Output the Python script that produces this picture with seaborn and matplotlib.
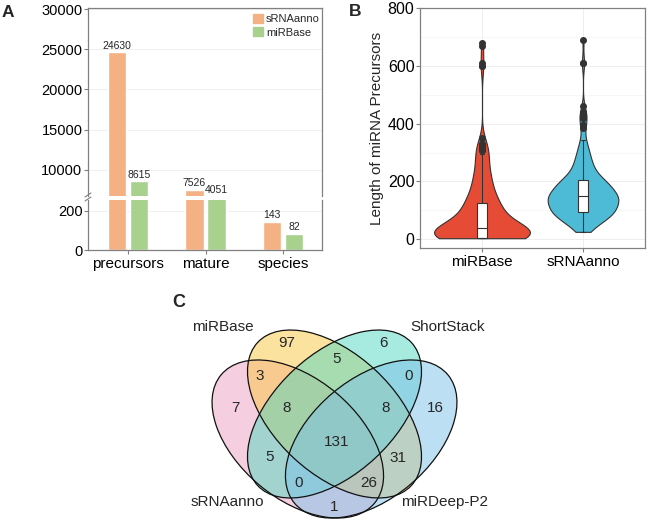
import numpy as np
import pandas as pd
import matplotlib
matplotlib.use("Agg")
import matplotlib.pyplot as plt
import seaborn as sns
from matplotlib.patches import Ellipse, Patch
from matplotlib.lines import Line2D

# ---------------- data ----------------
# Panel A: counts per annotation source
categories = ["precursors", "mature", "species"]
srnaanno_counts = [24630, 7526, 143]
mirbase_counts = [8615, 4051, 82]

# Panel B: precursor lengths as (length, how many)
mirbase_len = [3, 5, 15, 25, 35, 40, 55, 70, 90, 110, 125, 150, 175, 200, 225,
               250, 275, 295, 310, 320, 330, 350, 600, 610, 670, 680]
mirbase_num = [28, 29, 14, 14, 14, 14, 12, 11, 11, 11, 11, 9, 8, 7, 6,
               5, 4, 3, 3, 3, 2, 1, 2, 1, 1, 1]
srnaanno_len = [25, 40, 55, 70, 85, 95, 110, 125, 140, 150, 165, 180, 195, 205,
                225, 250, 275, 300, 325, 345, 385, 395, 420, 430, 440, 460, 610, 690]
srnaanno_num = [3, 5, 7, 10, 14, 12, 14, 15, 16, 14, 13, 12, 12, 8,
                9, 8, 6, 5, 3, 2, 1, 2, 2, 2, 1, 1, 2, 1]

# Panel C: four-set Venn region counts
# A = sRNAanno, B = miRBase, S = ShortStack, D = miRDeep-P2
venn_sets = ["sRNAanno", "miRBase", "ShortStack", "miRDeep-P2"]
venn_regions = ["B", "S", "BS", "AB", "SD", "A", "ABS", "BSD", "D",
                "ABSD", "AS", "BD", "ASD", "ABD", "AD"]
venn_counts = [97, 6, 5, 3, 0, 7, 8, 8, 16, 131, 5, 31, 0, 26, 1]

# ---------------- style ----------------
sns.set_theme(style="white")
plt.rcParams["font.family"] = ["Liberation Sans", "DejaVu Sans"]

orange, green = "#F4B183", "#A9D18E"
red, blue = "#E64B35", "#4DBBD5"
frame = "#808080"

W, H = 648, 526
fig = plt.figure(figsize=(W / 100, H / 100), dpi=100)


def box(left, top, right, bottom):
    # axes rectangle from pixel edges (origin top-left)
    return [left / W, 1 - bottom / H, (right - left) / W, (bottom - top) / H]


# ---------------- Panel A: bars with broken axis ----------------
bars = pd.DataFrame({
    "category": categories * 2,
    "count": srnaanno_counts + mirbase_counts,
    "source": ["sRNAanno"] * 3 + ["miRBase"] * 3,
})
low_max, top_min = 254, 6750

ax_top = fig.add_axes(box(88, 8.3, 322, 196))
ax_low = fig.add_axes(box(88, 200, 322, 250))
for ax in (ax_top, ax_low):
    sns.barplot(data=bars, x="category", y="count", hue="source",
                hue_order=["sRNAanno", "miRBase"], palette=[orange, green],
                width=0.568, gap=0.18, saturation=1, errorbar=None,
                legend=False, ax=ax, zorder=2)
    ax.set_xlim(-0.516, 2.503)
    ax.set_xlabel("")
    ax.set_ylabel("")
    ax.grid(axis="y", color="#F0F0F0", lw=0.7, zorder=0)
    for s in ax.spines.values():
        s.set_color(frame)
        s.set_linewidth(0.9)
    ax.tick_params(axis="y", labelsize=10.5, colors=frame, labelcolor="black",
                   length=3, width=0.8, left=True, pad=1)

ax_top.set_ylim(top_min, 30100)
ax_top.set_yticks([10000, 15000, 20000, 25000, 30000])
ax_top.spines["bottom"].set_visible(False)
ax_top.tick_params(axis="x", bottom=False, labelbottom=False)

ax_low.set_ylim(0, low_max)
ax_low.set_yticks([0, 200])
ax_low.spines["top"].set_visible(False)
ax_low.tick_params(axis="x", labelsize=11, colors=frame, labelcolor="black",
                   length=3, width=0.8, bottom=True, pad=2)

# value labels above the bars
for cont_top, vals in zip(ax_top.containers, [srnaanno_counts, mirbase_counts]):
    for patch, v in zip(cont_top.patches, vals):
        xc = patch.get_x() + patch.get_width() / 2
        if v > top_min:
            ax_top.annotate(str(v), (xc, v), xytext=(0, 1), textcoords="offset points",
                            ha="center", va="bottom", fontsize=7.5)
        elif v <= low_max:
            ax_low.annotate(str(v), (xc, v), xytext=(0, 1), textcoords="offset points",
                            ha="center", va="bottom", fontsize=7.5)
        else:
            ax_top.annotate(str(v), (xc, top_min), xytext=(0, 1), textcoords="offset points",
                            ha="center", va="bottom", fontsize=7.5, annotation_clip=False)

# break marks on the left border
for dy in (0, 4):
    fig.add_artist(Line2D([85 / W, 91 / W], [1 - (197 + dy) / H, 1 - (193 + dy) / H],
                          color=frame, lw=0.8))

ax_top.legend(handles=[Patch(color=orange), Patch(color=green)],
              labels=["sRNAanno", "miRBase"], loc="upper right",
              bbox_to_anchor=(320 / W, 1 - 14 / H), bbox_transform=fig.transFigure,
              frameon=False, fontsize=8, handlelength=0.9, handleheight=0.9,
              handletextpad=0.3, labelspacing=0.25, borderaxespad=0, borderpad=0)

# ---------------- Panel B: violins + boxes ----------------
lengths = pd.DataFrame({
    "db": ["miRBase"] * sum(mirbase_num) + ["sRNAanno"] * sum(srnaanno_num),
    "length": np.concatenate([np.repeat(mirbase_len, mirbase_num),
                              np.repeat(srnaanno_len, srnaanno_num)]),
})
order = ["miRBase", "sRNAanno"]

ax_b = fig.add_axes(box(420, 8.3, 645, 248.3))
for db, col, wid, bw in [("miRBase", red, 0.95, 0.85), ("sRNAanno", blue, 0.70, 0.7)]:
    sns.violinplot(data=lengths[lengths["db"] == db], x="db", y="length", order=order,
                   color=col, cut=0, inner=None, width=wid, bw_adjust=bw,
                   density_norm="width", saturation=1, linewidth=0.8,
                   linecolor="#333333", ax=ax_b)
sns.boxplot(data=lengths, x="db", y="length", order=order,
            width=0.09, color="white", saturation=1, linecolor="#333333",
            linewidth=0.8, fliersize=4,
            flierprops={"marker": "o", "markerfacecolor": "#333333",
                        "markeredgecolor": "#333333"}, ax=ax_b)
ax_b.set_xlim(-0.614, 1.614)
ax_b.set_ylim(-32, 800)
ax_b.set_yticks([0, 200, 400, 600, 800])
ax_b.set_yticks([100, 300, 500, 700], minor=True)
ax_b.grid(which="major", color="#EBEBEB", lw=0.6)
ax_b.grid(which="minor", axis="y", color="#F2F2F2", lw=0.4)
ax_b.set_axisbelow(True)
ax_b.set_xlabel("")
ax_b.set_ylabel("Length of miRNA Precursors", fontsize=11, labelpad=3)
for s in ax_b.spines.values():
    s.set_color(frame)
    s.set_linewidth(0.9)
ax_b.tick_params(axis="both", colors=frame, labelcolor="black", length=3,
                 width=0.8, left=True, bottom=True)
ax_b.tick_params(axis="y", labelsize=11.5, pad=1)
ax_b.tick_params(axis="x", labelsize=11, pad=2)
ax_b.tick_params(which="minor", left=False)

# ---------------- Panel C: Venn ----------------
# axes in pixel units, y pointing down
ax_c = fig.add_axes(box(165.5, 298.7, 503.5, 524))
ax_c.set_xlim(165.5, 503.5)
ax_c.set_ylim(524, 298.7)
ax_c.axis("off")

# center, semi-major, semi-minor, angle, fill
ellipse_layout = {
    "sRNAanno": ((297.8, 439.0), 100, 60, 40, "#EDA1C1"),
    "miRBase": ((334.5, 414.0), 105, 60, 43, "#FBC741"),
    "ShortStack": ((334.5, 414.0), 105, 60, 137, "#51D7C1"),
    "miRDeep-P2": ((371.2, 439.0), 100, 60, 140, "#7DC1E9"),
}
for name in venn_sets:
    c, a, b, ang, col = ellipse_layout[name]
    ax_c.add_patch(Ellipse(c, 2 * a, 2 * b, angle=ang, fc=col, ec="none", alpha=0.5))
for name in venn_sets:
    c, a, b, ang, col = ellipse_layout[name]
    ax_c.add_patch(Ellipse(c, 2 * a, 2 * b, angle=ang, fill=False, ec="#111111", lw=0.9))

set_label_pos = {"sRNAanno": (227, 502), "miRBase": (223, 327),
                 "ShortStack": (448, 327), "miRDeep-P2": (445, 502)}
for name in venn_sets:
    ax_c.text(*set_label_pos[name], name, ha="center", va="center", fontsize=11)

region_pos = {"B": (286.7, 342.7), "S": (383.3, 342.7), "BS": (336.7, 359),
              "AB": (259.3, 376), "SD": (408.3, 376), "A": (235, 408.3),
              "ABS": (286.7, 408.3), "BSD": (386, 408.3), "D": (435, 408.3),
              "ABSD": (336.7, 441.7), "AS": (270, 456.7), "BD": (398.3, 458.3),
              "ASD": (298.3, 483.3), "ABD": (368.3, 483.3), "AD": (334, 506.7)}
for reg, n in zip(venn_regions, venn_counts):
    ax_c.text(*region_pos[reg], str(n), ha="center", va="center", fontsize=11)

# ---------------- panel letters ----------------
fig.text(2 / W, 1 - 5 / H, "A", fontsize=12.5, weight="bold", va="top")
fig.text(349 / W, 1 - 4 / H, "B", fontsize=12.5, weight="bold", va="top")
fig.text(172 / W, 1 - 294 / H, "C", fontsize=13, weight="bold", va="top")

fig.savefig("out.png", dpi=100)
